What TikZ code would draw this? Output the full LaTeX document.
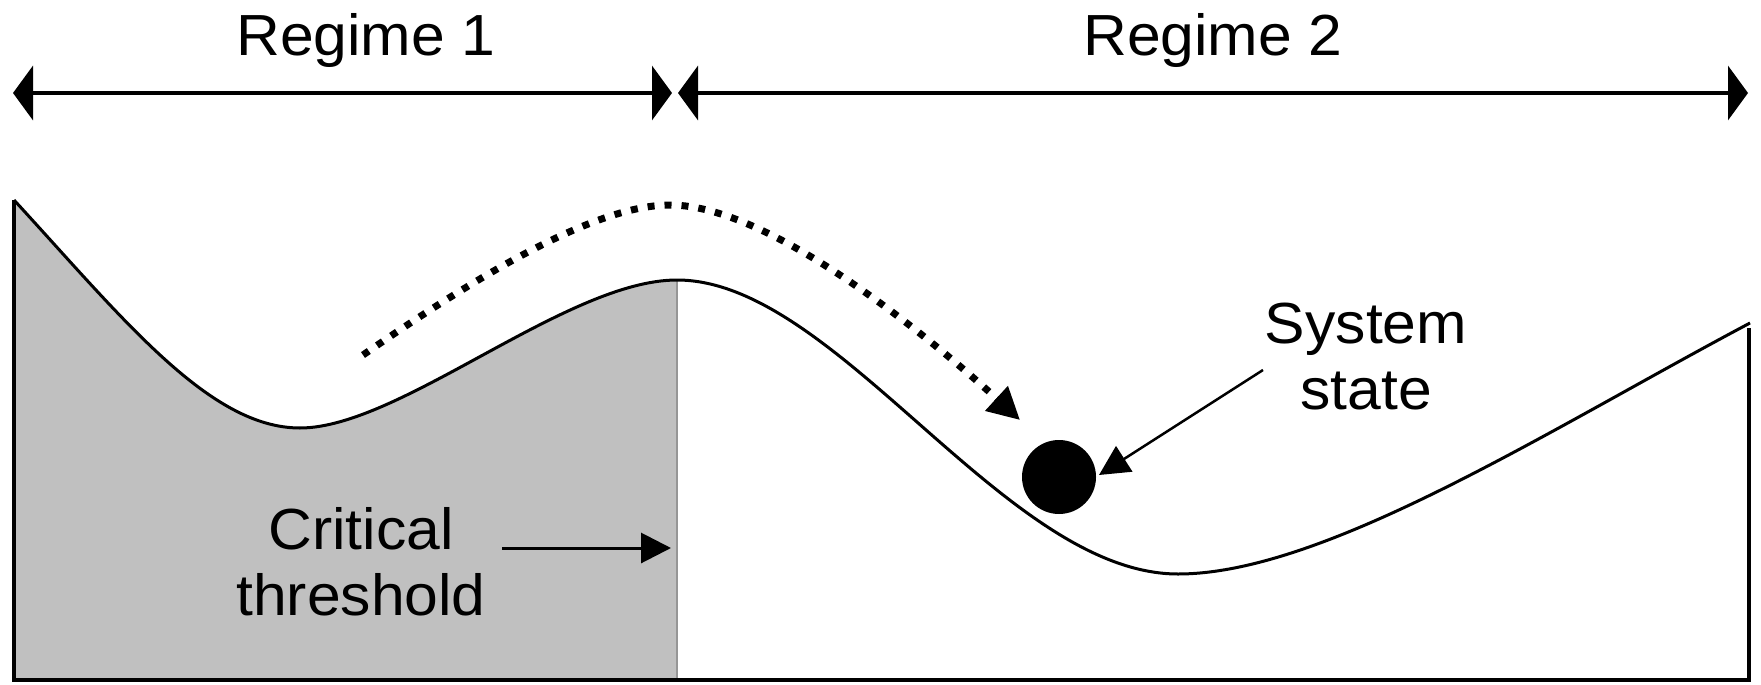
\documentclass[tikz,border=0pt]{standalone}
\usepackage{fontspec}
\setmainfont{Liberation Sans}[FakeStretch=1.045]
\usetikzlibrary{arrows.meta}
\definecolor{fillgray}{RGB}{192,192,192}
\definecolor{edgegray}{RGB}{150,150,150}
\begin{document}
\begin{tikzpicture}[x=1pt,y=-1pt,
  lbl/.style={font=\fontsize{58}{66}\selectfont, inner sep=0pt, align=center},
  span/.style={line width=4pt, {Triangle[length=20pt,width=54pt]}-{Triangle[length=20pt,width=54pt]}},
  curveline/.style={line width=3pt, line join=round},
  frameline/.style={line width=4pt},
  pointer/.style={line width=3pt, -{Triangle[length=30pt,width=30pt]}},
  traj/.style={line width=7pt, dash pattern=on 7pt off 10pt, -{Triangle[length=32pt,width=32pt]}}
]
\useasboundingbox (0,0) rectangle (1761,685);
% landscape key points
\coordinate (s) at (14,200);
\coordinate (m1) at (300,428);
\coordinate (pk) at (677,280);
\coordinate (m2) at (1178,574);
\coordinate (e) at (1750,323);
\coordinate (thb) at (677,680);
\coordinate (bl) at (14,680);
\coordinate (br) at (1749,680);
\coordinate (rt) at (1749,328);
% shaded regime 1
\fill[fillgray] (s) .. controls (125,321) and (210,428) .. (m1)
  .. controls (400,428) and (567,280) .. (pk) -- (thb) -- (bl) -- cycle;
\draw[edgegray, line width=1.5pt] (pk) -- (thb);
% landscape curve
\draw[curveline] (s) .. controls (125,321) and (210,428) .. (m1)
  .. controls (400,428) and (567,280) .. (pk)
  .. controls (837,280) and (1005,574) .. (m2)
  .. controls (1325,574) and (1550,429) .. (e);
\draw[frameline] (s) -- (bl) -- (br) -- (rt);
% top spans
\coordinate (a0) at (13,93);
\coordinate (a1) at (672,93);
\coordinate (a2) at (678,93);
\coordinate (a3) at (1748,93);
\draw[span] (a0) -- (a1);
\draw[span] (a2) -- (a3);
\node[lbl, anchor=base] (reg1) at (366,56) {Regime 1};
\node[lbl, anchor=base] (reg2) at (1213,56) {Regime 2};
% ball
\node[circle, fill=black, minimum size=74pt, inner sep=0pt] (ball) at (1059,477) {};
% labels (base anchor = baseline of last line)
\node[lbl, anchor=base] (crit) at (361,615) {Critical\\threshold};
\node[lbl, anchor=base] (sys) at (1366,409) {System\\state};
% connectors
\coordinate (critstart) at (502,548);
\coordinate (critend) at (671,548);
\draw[pointer] (critstart) -- (critend);
\coordinate (sysstart) at (1263,370);
\coordinate (systip) at (1099,475);
\draw[pointer, line width=2.5pt] (sysstart) -- (systip);
% trajectory
\coordinate (t0) at (363,355);
\coordinate (t1) at (670,205);
\coordinate (t2) at (1020,420);
\draw[traj] (t0) .. controls (463,286) and (590,205) .. (t1)
  .. controls (780,205) and (960,365) .. (t2);
\end{tikzpicture}
\end{document}
